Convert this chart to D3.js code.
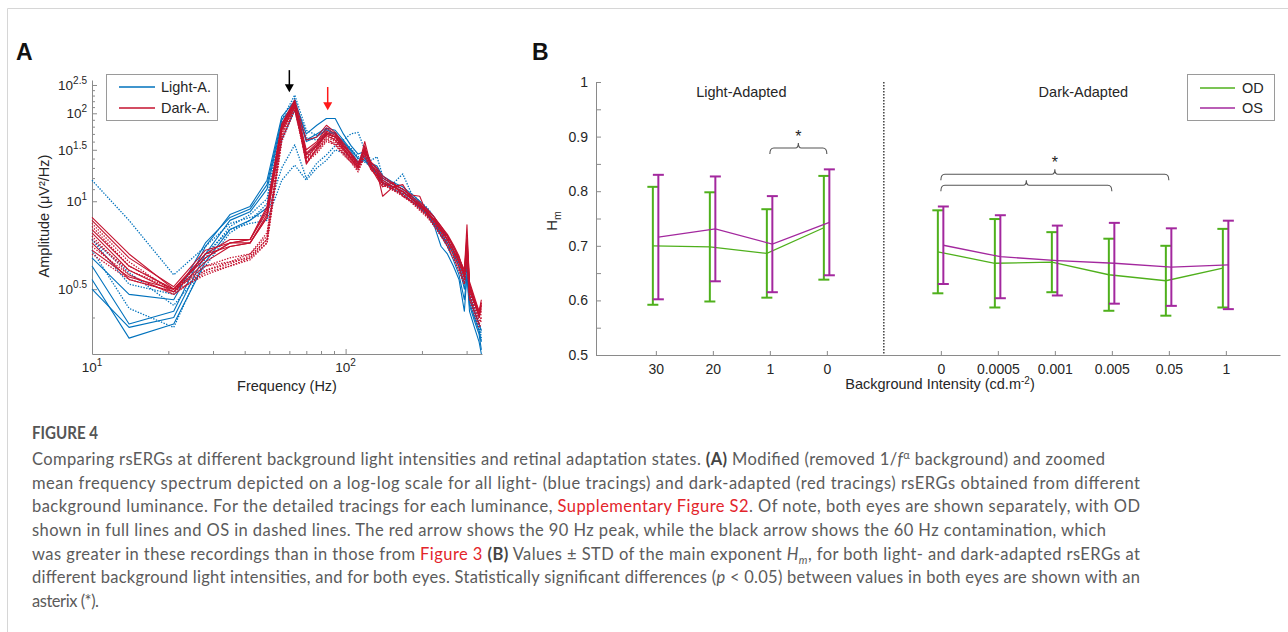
<!DOCTYPE html>
<html>
<head>
<meta charset="utf-8">
<script src="https://cdn.jsdelivr.net/npm/d3@7"></script>
<style>
  body { margin: 0; background: #fff; }
  svg { display: block; }
</style>
</head>
<body>
<div id="fig"></div>
<script>
// ---- Panel A: frequency grid (Hz) and traces (values are log10 amplitude, i.e. the exponent of 10^x)
var freqs = [10, 14, 21, 28, 35, 42, 49, 56, 63, 70, 77, 84, 91, 98, 105, 112, 119, 126, 133, 140,
  154, 168, 182, 196, 210, 224, 238, 252, 266, 280, 294, 301, 308, 322, 336, 343];

// light-adapted (blue), OD solid, OS dotted
var light30OD = [0.54, 0.34, 0.38, 0.62, 0.80, 0.86, 0.95, 1.62, 2.05, 1.45, 1.55, 1.70, 1.72, 1.55, 1.45, 1.35, 1.38, 1.30, 1.26, 1.20, 1.14, 1.10, 1.04, 0.98, 0.92, 0.86, 0.76, 0.72, 0.66, 0.60, 0.50, 0.60, 0.45, 0.40, 0.36, 0.33];
var light30OS = [1.18, 0.86, 0.56, 0.70, 0.84, 0.88, 0.90, 1.30, 1.56, 1.20, 1.35, 1.44, 1.55, 1.62, 1.70, 1.72, 1.50, 1.38, 1.42, 1.22, 1.15, 1.24, 1.06, 1.00, 0.95, 0.88, 0.80, 0.76, 0.70, 0.63, 0.55, 0.62, 0.50, 0.43, 0.38, 0.36];
var light20OD = [0.60, 0.38, 0.42, 0.70, 0.90, 0.96, 1.18, 1.95, 2.20, 1.70, 1.82, 1.92, 1.92, 1.70, 1.55, 1.45, 1.48, 1.35, 1.32, 1.22, 1.16, 1.12, 1.06, 1.00, 0.94, 0.88, 0.80, 0.76, 0.70, 0.64, 0.56, 0.62, 0.48, 0.42, 0.38, 0.36];
var light20OS = [0.74, 0.52, 0.48, 0.66, 0.80, 0.84, 0.86, 1.18, 1.33, 1.18, 1.30, 1.38, 1.50, 1.46, 1.42, 1.38, 1.40, 1.34, 1.30, 1.18, 1.12, 1.08, 1.02, 0.96, 0.92, 0.84, 0.78, 0.72, 0.66, 0.60, 0.52, 0.62, 0.46, 0.41, 0.37, 0.34];
var light1OD = [0.50, 0.37, 0.40, 0.66, 0.86, 0.92, 1.10, 1.85, 2.12, 1.62, 1.70, 1.78, 1.75, 1.62, 1.50, 1.40, 1.42, 1.30, 1.24, 1.15, 1.12, 1.08, 1.02, 0.96, 0.90, 0.82, 0.70, 0.66, 0.60, 0.54, 0.42, 0.56, 0.44, 0.39, 0.35, 0.31];
var light1OS = [0.68, 0.43, 0.37, 0.64, 0.82, 0.90, 1.02, 1.90, 2.31, 1.75, 1.68, 1.74, 1.70, 1.58, 1.52, 1.40, 1.36, 1.32, 1.28, 1.16, 1.12, 1.08, 1.03, 0.97, 0.91, 0.84, 0.78, 0.72, 0.67, 0.60, 0.52, 0.60, 0.47, 0.41, 0.36, 0.33];
var light0OD = [0.64, 0.48, 0.46, 0.72, 0.88, 0.94, 1.14, 1.90, 2.15, 1.60, 1.66, 1.76, 1.70, 1.60, 1.48, 1.36, 1.40, 1.30, 1.24, 1.16, 1.10, 1.06, 1.00, 0.95, 0.90, 0.83, 0.76, 0.70, 0.63, 0.56, 0.46, 0.56, 0.42, 0.37, 0.33, 0.30];
var light0OS = [0.74, 0.57, 0.44, 0.60, 0.78, 0.86, 0.98, 1.80, 2.25, 1.65, 1.62, 1.70, 1.66, 1.56, 1.50, 1.42, 1.44, 1.34, 1.30, 1.20, 1.15, 1.10, 1.04, 0.98, 0.92, 0.86, 0.80, 0.74, 0.68, 0.62, 0.54, 0.62, 0.49, 0.43, 0.38, 0.35];

// dark-adapted (red), OD solid, OS dotted
var dark0OD = [0.88, 0.66, 0.50, 0.66, 0.70, 0.72, 0.88, 1.75, 2.10, 1.40, 1.55, 1.68, 1.62, 1.50, 1.40, 1.30, 1.60, 1.32, 1.26, 1.16, 1.12, 1.14, 1.02, 0.98, 0.93, 0.88, 0.82, 0.76, 0.70, 0.64, 0.58, 0.83, 0.52, 0.46, 0.42, 0.46];
var dark0OS = [0.84, 0.62, 0.49, 0.60, 0.64, 0.66, 0.76, 1.70, 2.15, 1.45, 1.55, 1.72, 1.64, 1.52, 1.42, 1.32, 1.48, 1.34, 1.24, 1.18, 1.12, 1.08, 1.02, 0.97, 0.92, 0.86, 0.80, 0.75, 0.69, 0.63, 0.55, 0.68, 0.50, 0.45, 0.40, 0.42];
var dark00005OD = [0.80, 0.60, 0.50, 0.64, 0.72, 0.74, 0.94, 1.82, 2.20, 1.50, 1.60, 1.78, 1.70, 1.56, 1.45, 1.34, 1.50, 1.36, 1.28, 1.20, 1.14, 1.10, 1.04, 0.99, 0.94, 0.88, 0.82, 0.77, 0.71, 0.65, 0.56, 0.72, 0.52, 0.46, 0.41, 0.44];
var dark00005OS = [0.76, 0.56, 0.48, 0.58, 0.62, 0.64, 0.74, 1.66, 2.12, 1.36, 1.50, 1.66, 1.60, 1.48, 1.38, 1.28, 1.46, 1.30, 1.22, 1.14, 1.10, 1.06, 1.00, 0.95, 0.90, 0.84, 0.78, 0.72, 0.66, 0.60, 0.54, 0.66, 0.48, 0.43, 0.39, 0.40];
var dark0001OD = [0.72, 0.54, 0.49, 0.62, 0.70, 0.72, 0.90, 1.78, 2.18, 1.46, 1.58, 1.74, 1.68, 1.54, 1.44, 1.32, 1.52, 1.33, 1.26, 1.04, 1.12, 1.08, 1.02, 0.97, 0.92, 0.86, 0.80, 0.74, 0.68, 0.62, 0.56, 0.70, 0.50, 0.45, 0.40, 0.43];
var dark0001OS = [0.70, 0.56, 0.48, 0.57, 0.60, 0.64, 0.72, 1.62, 2.08, 1.38, 1.48, 1.62, 1.58, 1.46, 1.36, 1.28, 1.44, 1.28, 1.22, 1.15, 1.10, 1.05, 1.00, 0.94, 0.89, 0.83, 0.77, 0.71, 0.65, 0.59, 0.53, 0.64, 0.47, 0.42, 0.38, 0.39];
var dark0005OD = [0.86, 0.64, 0.51, 0.68, 0.72, 0.74, 0.92, 1.80, 2.16, 1.34, 1.52, 1.70, 1.66, 1.52, 1.40, 1.30, 1.55, 1.30, 1.20, 1.12, 1.16, 1.04, 1.00, 0.96, 0.91, 0.85, 0.79, 0.74, 0.68, 0.62, 0.57, 0.74, 0.51, 0.45, 0.41, 0.45];
var dark0005OS = [0.82, 0.60, 0.50, 0.60, 0.62, 0.66, 0.78, 1.72, 2.10, 1.42, 1.54, 1.70, 1.62, 1.50, 1.40, 1.30, 1.46, 1.32, 1.25, 1.16, 1.11, 1.07, 1.02, 0.96, 0.91, 0.85, 0.79, 0.73, 0.67, 0.61, 0.55, 0.67, 0.49, 0.44, 0.40, 0.41];
var dark005OD = [0.78, 0.58, 0.49, 0.66, 0.74, 0.74, 0.96, 1.84, 2.22, 1.62, 1.66, 1.82, 1.72, 1.58, 1.46, 1.36, 1.48, 1.36, 1.30, 1.22, 1.15, 1.10, 1.05, 1.04, 0.90, 0.87, 0.81, 0.76, 0.70, 0.64, 0.58, 0.76, 0.53, 0.47, 0.42, 0.45];
var dark005OS = [0.74, 0.58, 0.50, 0.58, 0.61, 0.65, 0.74, 1.64, 2.05, 1.40, 1.50, 1.64, 1.56, 1.46, 1.38, 1.30, 1.45, 1.30, 1.23, 1.14, 1.09, 1.05, 0.99, 0.94, 0.89, 0.82, 0.76, 0.70, 0.64, 0.58, 0.52, 0.63, 0.47, 0.42, 0.38, 0.40];
var dark1OD = [0.68, 0.55, 0.50, 0.64, 0.72, 0.72, 0.88, 1.76, 2.14, 1.44, 1.56, 1.72, 1.66, 1.52, 1.42, 1.32, 1.50, 1.32, 1.26, 1.18, 1.12, 1.08, 1.02, 0.97, 0.92, 0.86, 0.80, 0.74, 0.68, 0.62, 0.56, 0.70, 0.50, 0.45, 0.41, 0.44];
var dark1OS = [0.66, 0.54, 0.49, 0.56, 0.60, 0.63, 0.72, 1.60, 2.06, 1.36, 1.46, 1.60, 1.56, 1.44, 1.36, 1.26, 1.42, 1.28, 1.22, 1.14, 1.09, 1.04, 0.99, 0.93, 0.88, 0.82, 0.76, 0.70, 0.64, 0.58, 0.52, 0.62, 0.46, 0.41, 0.37, 0.38];

var lightSolid = [light30OD, light20OD, light1OD, light0OD];
var lightDotted = [light30OS, light20OS, light1OS, light0OS];
var darkSolid = [dark0OD, dark00005OD, dark0001OD, dark0005OD, dark005OD, dark1OD];
var darkDotted = [dark0OS, dark00005OS, dark0001OS, dark0005OS, dark005OS, dark1OS];

// axis ticks for panel A
var xMajorA = [10, 100];
var xMinorA = [20, 30, 40, 50, 60, 70, 80, 90, 200, 300];
var yMajorA = [0.5, 1, 1.5, 2, 2.5];
var yMajorLabels = ["0.5", "1", "1.5", "2", "2.5"];
var yMinorA = [0.4, 1.1, 1.2, 1.3, 1.4, 1.6, 1.7, 1.8, 1.9, 2.1, 2.2, 2.3, 2.4];

// ---- Panel B: Hm values
var lightLabels = ["30", "20", "1", "0"];
var darkLabels = ["0", "0.0005", "0.001", "0.005", "0.05", "1"];
var odLightMean = [0.700, 0.698, 0.686, 0.733];
var odLightStd = [0.108, 0.100, 0.081, 0.095];
var osLightMean = [0.716, 0.731, 0.703, 0.743];
var osLightStd = [0.114, 0.096, 0.088, 0.097];
var odDarkMean = [0.689, 0.668, 0.670, 0.647, 0.636, 0.659];
var odDarkStd = [0.076, 0.081, 0.055, 0.066, 0.064, 0.072];
var osDarkMean = [0.701, 0.680, 0.673, 0.668, 0.661, 0.665];
var osDarkStd = [0.071, 0.076, 0.064, 0.074, 0.071, 0.081];
var yTicksB = [0.5, 0.55, 0.6, 0.65, 0.7, 0.75, 0.8, 0.85, 0.9, 0.95, 1];

var font = '"Liberation Sans", Arial, Helvetica, sans-serif';
var axisGray = "#8a8a8a";
var ink = "#262626";
var blue = "#0072bd", red = "#c4122f";
var green = "#4fb01c", purple = "#a3289e";

var svg = d3.select("#fig").append("svg")
  .attr("width", 1288)
  .attr("height", 632)
  .style("font-family", font);

// page frame
svg.append("path")
  .attr("d", "M7.5,632 V8.5 H1288")
  .attr("fill", "none")
  .attr("stroke", "#d6d6d6");

// panel letters
svg.append("text").attr("x", 16).attr("y", 60).text("A")
  .style("font-size", "23px").style("font-weight", "bold").attr("fill", "#111");
svg.append("text").attr("x", 532).attr("y", 60).text("B")
  .style("font-size", "23px").style("font-weight", "bold").attr("fill", "#111");

// ================= Panel A =================
var xA = d3.scaleLog().domain([10, 345]).range([92, 482]);
var yA = d3.scaleLog().domain([0.3, 2.6]).range([354, 80]);

var gA = svg.append("g");

// minor ticks
gA.append("g")
  .attr("transform", "translate(0,354)")
  .call(d3.axisBottom(xA).tickValues(xMinorA).tickSize(-3).tickFormat(""))
  .call(g => g.select(".domain").remove())
  .selectAll("line").attr("stroke", axisGray);
gA.append("g")
  .attr("transform", "translate(92,0)")
  .call(d3.axisLeft(yA).tickValues(yMinorA).tickSize(-3).tickFormat(""))
  .call(g => g.select(".domain").remove())
  .selectAll("line").attr("stroke", axisGray);

// major ticks + axis lines
var xAxisA = gA.append("g")
  .attr("transform", "translate(0,354)")
  .call(d3.axisBottom(xA).tickValues(xMajorA).tickSize(-5).tickSizeOuter(0).tickFormat(""));
xAxisA.selectAll("line, path").attr("stroke", axisGray);

var yAxisA = gA.append("g")
  .attr("transform", "translate(92,0)")
  .call(d3.axisLeft(yA).tickValues(yMajorA).tickSize(-5).tickSizeOuter(0).tickFormat(""));
yAxisA.selectAll("line, path").attr("stroke", axisGray);

// tick labels with superscripts
xMajorA.forEach(function(v) {
  var t = gA.append("text")
    .attr("x", xA(v))
    .attr("y", 372)
    .attr("text-anchor", "middle")
    .attr("fill", ink)
    .style("font-size", "13.5px");
  t.append("tspan").text("10");
  t.append("tspan").attr("dy", -6).style("font-size", "10px").text(String(Math.round(Math.log10(v))));
});
yMajorA.forEach(function(v, i) {
  var t = gA.append("text")
    .attr("x", 87)
    .attr("y", yA(v) + 5)
    .attr("text-anchor", "end")
    .attr("fill", ink)
    .style("font-size", "13.5px");
  t.append("tspan").text("10");
  t.append("tspan").attr("dy", -6).style("font-size", "10px").text(yMajorLabels[i]);
});

// axis titles
gA.append("text")
  .attr("transform", "translate(49,216) rotate(-90)")
  .attr("text-anchor", "middle")
  .attr("fill", ink)
  .style("font-size", "14.5px")
  .text("Amplitude (μV²/Hz)");
gA.append("text")
  .attr("x", 287).attr("y", 391)
  .attr("text-anchor", "middle")
  .attr("fill", ink)
  .style("font-size", "14.5px")
  .text("Frequency (Hz)");

// traces
var traceLine = d3.line()
  .x(function(d, i) { return xA(freqs[i]); })
  .y(function(d) { return yA(d); });

function drawTraces(list, color, dotted, cls) {
  gA.append("g").attr("class", cls)
    .selectAll("path")
    .data(list)
    .enter()
    .append("path")
    .attr("d", traceLine)
    .attr("fill", "none")
    .attr("stroke", color)
    .attr("stroke-width", dotted ? 1.3 : 1.1)
    .attr("stroke-dasharray", dotted ? "1.4,1.4" : null)
    .attr("stroke-linejoin", "round");
}
drawTraces(lightSolid, blue, false, "light-od");
drawTraces(lightDotted, blue, true, "light-os");
drawTraces(darkDotted, red, true, "dark-os");
drawTraces(darkSolid, red, false, "dark-od");

// arrows: 60 Hz contamination (black) and 90 Hz peak (red)
var arrows = [
  { f: 60, top: 2.81, tip: 2.36, color: "#000" },
  { f: 85, top: 2.46, tip: 2.05, color: "#ff1a1a" }
];
arrows.forEach(function(a) {
  var x = xA(a.f), y0 = yA(a.top), y1 = yA(a.tip);
  gA.append("line")
    .attr("x1", x).attr("x2", x)
    .attr("y1", y0).attr("y2", y1 - 6)
    .attr("stroke", a.color).attr("stroke-width", 1.5);
  gA.append("path")
    .attr("d", "M" + (x - 4.5) + "," + (y1 - 8) + " L" + (x + 4.5) + "," + (y1 - 8) + " L" + x + "," + y1 + " Z")
    .attr("fill", a.color);
});

// legend A
var legA = gA.append("g").attr("transform", "translate(106,74)");
legA.append("rect").attr("x", 0.5).attr("y", 0.5).attr("width", 111).attr("height", 46)
  .attr("fill", "#fff").attr("stroke", "#9a9a9a");
[{ label: "Light-A.", color: blue, y: 13 }, { label: "Dark-A.", color: red, y: 34 }].forEach(function(d) {
  legA.append("line").attr("x1", 13).attr("x2", 49).attr("y1", d.y).attr("y2", d.y)
    .attr("stroke", d.color).attr("stroke-width", 1.3);
  legA.append("text").attr("x", 55).attr("y", d.y + 5).attr("fill", ink)
    .style("font-size", "14.5px").text(d.label);
});

// ================= Panel B =================
var xB = d3.scaleLinear().domain([-0.05, 11.95]).range([596, 1280]);
var yB = d3.scaleLinear().domain([0.5, 1]).range([355, 82]);

var lightPos = [1, 2, 3, 4];
var darkPos = [6, 7, 8, 9, 10, 11];
var dividerPos = 5;

var gB = svg.append("g");

var xAxisB = gB.append("g")
  .attr("transform", "translate(0,355)")
  .call(d3.axisBottom(xB)
    .tickValues(lightPos.concat(darkPos))
    .tickSize(-4)
    .tickSizeOuter(0)
    .tickPadding(9)
    .tickFormat(function(d) { return d < dividerPos ? lightLabels[d - 1] : darkLabels[d - 6]; }));
xAxisB.selectAll("line, path").attr("stroke", axisGray);
xAxisB.selectAll("text").attr("fill", ink).style("font-size", "14px").style("font-family", font);

var yAxisB = gB.append("g")
  .attr("transform", "translate(596,0)")
  .call(d3.axisLeft(yB)
    .tickValues(yTicksB)
    .tickSize(-5)
    .tickSizeOuter(0)
    .tickPadding(8)
    .tickFormat(function(d) {
      var k = Math.round(d * 100);
      if (k % 10 !== 0) return "";
      return k === 100 ? "1" : d3.format(".1f")(d);
    }));
yAxisB.selectAll("line, path").attr("stroke", axisGray);
yAxisB.selectAll("text").attr("fill", ink).style("font-size", "14px").style("font-family", font);

// divider between light and dark adapted
gB.append("line")
  .attr("x1", xB(dividerPos)).attr("x2", xB(dividerPos))
  .attr("y1", yB(1)).attr("y2", yB(0.5))
  .attr("stroke", "#111").attr("stroke-width", 1.2)
  .attr("stroke-dasharray", "1.5,1.5");

// section titles
gB.append("text").attr("x", xB(2.5)).attr("y", 97).attr("text-anchor", "middle")
  .attr("fill", ink).style("font-size", "14.5px").text("Light-Adapted");
gB.append("text").attr("x", xB(8.5)).attr("y", 97).attr("text-anchor", "middle")
  .attr("fill", ink).style("font-size", "14.5px").text("Dark-Adapted");

// axis titles
var hm = gB.append("text")
  .attr("transform", "translate(557,221) rotate(-90)")
  .attr("text-anchor", "middle")
  .attr("fill", ink)
  .style("font-size", "15px");
hm.append("tspan").text("H");
hm.append("tspan").attr("dy", 4).style("font-size", "10.5px").text("m");

var xt = gB.append("text")
  .attr("x", 940).attr("y", 389)
  .attr("text-anchor", "middle")
  .attr("fill", ink)
  .style("font-size", "14.5px");
xt.append("tspan").text("Background Intensity (cd.m");
xt.append("tspan").attr("dy", -5).style("font-size", "10px").text("-2");
xt.append("tspan").attr("dy", 5).text(")");

// error bars
function series(pos, mean, std, offset) {
  return pos.map(function(p, i) { return { x: xB(p) + offset, m: mean[i], s: std[i] }; });
}
var groups = [
  { data: series(lightPos, odLightMean, odLightStd, -3), color: green },
  { data: series(darkPos, odDarkMean, odDarkStd, -3), color: green },
  { data: series(lightPos, osLightMean, osLightStd, 2.5), color: purple },
  { data: series(darkPos, osDarkMean, osDarkStd, 2.5), color: purple }
];

var meanLine = d3.line().x(function(d) { return d.x; }).y(function(d) { return yB(d.m); });

groups.forEach(function(g) {
  var eg = gB.append("g");
  eg.append("path")
    .datum(g.data)
    .attr("d", meanLine)
    .attr("fill", "none")
    .attr("stroke", g.color)
    .attr("stroke-width", 1.3);
  var bars = eg.selectAll("g.bar").data(g.data).enter().append("g").attr("class", "bar");
  bars.append("line")
    .attr("x1", function(d) { return d.x; }).attr("x2", function(d) { return d.x; })
    .attr("y1", function(d) { return yB(d.m + d.s); })
    .attr("y2", function(d) { return yB(d.m - d.s); })
    .attr("stroke", g.color).attr("stroke-width", 2);
  [1, -1].forEach(function(sign) {
    bars.append("line")
      .attr("x1", function(d) { return d.x - 5.5; }).attr("x2", function(d) { return d.x + 5.5; })
      .attr("y1", function(d) { return yB(d.m + sign * d.s); })
      .attr("y2", function(d) { return yB(d.m + sign * d.s); })
      .attr("stroke", g.color).attr("stroke-width", 2);
  });
});

// significance brackets
var brackets = [
  { from: 3, to: 4, level: 0.879, star: true },
  { from: 6, to: 10, level: 0.831, star: true },
  { from: 6, to: 9, level: 0.811, star: false }
];
brackets.forEach(function(b) {
  var x1 = xB(b.from), x2 = xB(b.to), xm = (x1 + x2) / 2, y = yB(b.level);
  var d = "M" + x1 + "," + (y + 6) +
    " Q" + x1 + "," + y + " " + (x1 + 4) + "," + y +
    " L" + (xm - 3) + "," + y +
    " Q" + xm + "," + y + " " + xm + "," + (y - 5) +
    " Q" + xm + "," + y + " " + (xm + 3) + "," + y +
    " L" + (x2 - 4) + "," + y +
    " Q" + x2 + "," + y + " " + x2 + "," + (y + 6);
  gB.append("path").attr("d", d).attr("fill", "none").attr("stroke", "#555").attr("stroke-width", 1.1);
  if (b.star) {
    gB.append("text").attr("x", xm).attr("y", y - 6).attr("text-anchor", "middle")
      .attr("fill", "#222").style("font-size", "16px").text("*");
  }
});

// legend B
var legB = gB.append("g").attr("transform", "translate(1187,74)");
legB.append("rect").attr("x", 0.5).attr("y", 0.5).attr("width", 87).attr("height", 46)
  .attr("fill", "#fff").attr("stroke", "#9a9a9a");
[{ label: "OD", color: green, y: 14 }, { label: "OS", color: purple, y: 34 }].forEach(function(d) {
  legB.append("line").attr("x1", 13).attr("x2", 48).attr("y1", d.y).attr("y2", d.y)
    .attr("stroke", d.color).attr("stroke-width", 1.3);
  legB.append("text").attr("x", 55).attr("y", d.y + 5).attr("fill", ink)
    .style("font-size", "14.5px").text(d.label);
});

// ================= Caption =================
var capFont = 'Lato, "Open Sans", "Noto Sans", sans-serif';
var capGray = "#5b5b5b", capRed = "#e3252b";

svg.append("text")
  .attr("x", 32).attr("y", 439)
  .attr("textLength", 66).attr("lengthAdjust", "spacingAndGlyphs")
  .attr("fill", "#555")
  .style("font-family", capFont).style("font-size", "16.5px").style("font-weight", "bold")
  .text("FIGURE 4");

var captionLines = [
  [{ t: "Comparing rsERGs at different background light intensities and retinal adaptation states. " }, { t: "(A)", b: 1 }, { t: " Modified (removed 1/" }, { t: "f", i: 1 }, { t: "α", sup: 1 }, { t: " background) and zoomed" }],
  [{ t: "mean frequency spectrum depicted on a log-log scale for all light- (blue tracings) and dark-adapted (red tracings) rsERGs obtained from different" }],
  [{ t: "background luminance. For the detailed tracings for each luminance, " }, { t: "Supplementary Figure S2", red: 1 }, { t: ". Of note, both eyes are shown separately, with OD" }],
  [{ t: "shown in full lines and OS in dashed lines. The red arrow shows the 90 Hz peak, while the black arrow shows the 60 Hz contamination, which" }],
  [{ t: "was greater in these recordings than in those from " }, { t: "Figure 3", red: 1 }, { t: " " }, { t: "(B)", b: 1 }, { t: " Values " }, { t: "±" }, { t: " STD of the main exponent " }, { t: "H", i: 1 }, { t: "m", i: 1, sub: 1 }, { t: ", for both light- and dark-adapted rsERGs at" }],
  [{ t: "different background light intensities, and for both eyes. Statistically significant differences (" }, { t: "p", i: 1 }, { t: " < 0.05) between values in both eyes are shown with an" }],
  [{ t: "asterix (*)." }]
];
var captionWidths = [1073, 1108, 1108, 1074, 1108, 1108, 67];

captionLines.forEach(function(parts, li) {
  var t = svg.append("text")
    .attr("x", 32)
    .attr("y", 465 + li * 23.67)
    .attr("textLength", captionWidths[li])
    .attr("lengthAdjust", "spacing")
    .attr("fill", capGray)
    .style("font-family", capFont)
    .style("font-size", "16.5px");
  var shift = 0;
  parts.forEach(function(p) {
    var target = p.sup ? -6 : (p.sub ? 4 : 0);
    var ts = t.append("tspan").attr("dy", target - shift).text(p.t);
    shift = target;
    if (p.b) ts.style("font-weight", "bold").attr("fill", "#444");
    if (p.i) ts.style("font-style", "italic");
    if (p.red) ts.attr("fill", capRed);
    if (p.sup || p.sub) ts.style("font-size", "11px");
  });
});
</script>
</body>
</html>
